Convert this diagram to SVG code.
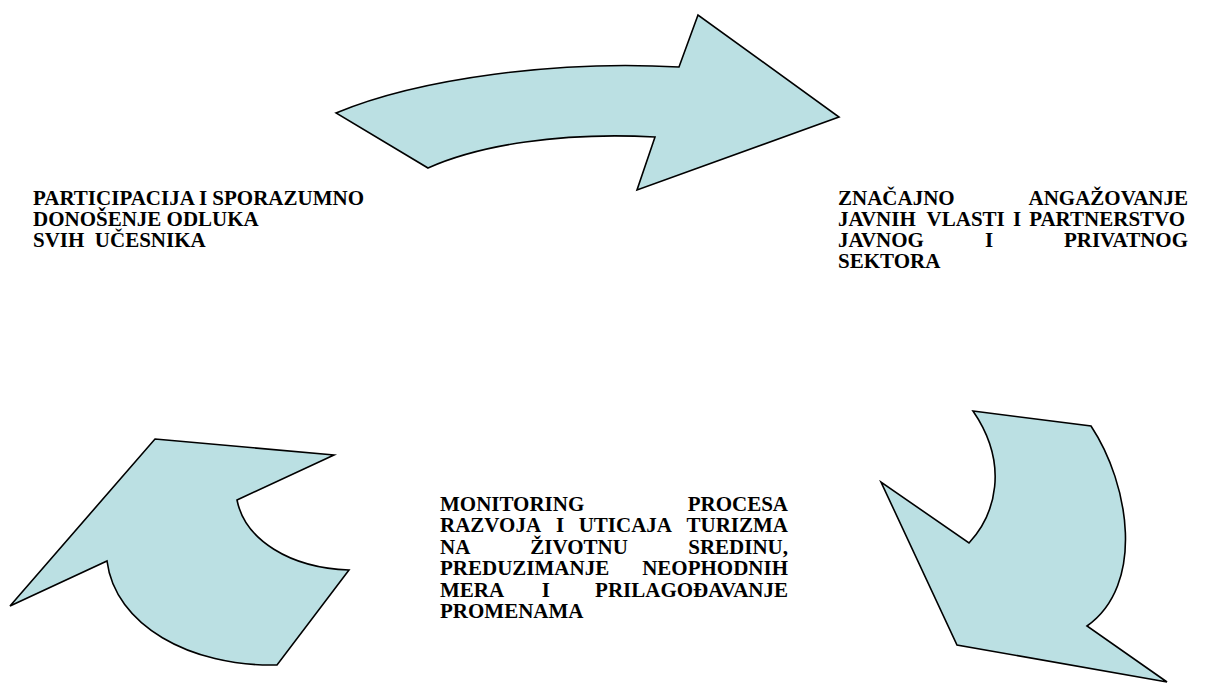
<svg xmlns="http://www.w3.org/2000/svg" width="1206" height="683" viewBox="0 0 1206 683">
<style>
.arrow{fill:#BBE0E3;stroke:#000;stroke-width:1.6;stroke-linejoin:miter}
.t{font-family:'Liberation Serif','Times New Roman','DejaVu Serif',serif;font-weight:700;font-size:21px;fill:#000}
.e{text-anchor:end}
</style>
<rect width="1206" height="683" fill="#fff"/>
<g id="connectors">
<path id="arrow-top" class="arrow" d="M336,113 C420,78 560,60 679,67 L698,15 L839,117 L637,190 L655,137 C560,132 480,145 428,168 Z"/>
<path id="arrow-right" class="arrow" d="M973,411 L1091,426 C1130,485 1145,585 1087,626 L1167,682 L957,645 L881,482 L969,543 C995,515 1010,465 973,411 Z"/>
<path id="arrow-left" class="arrow" d="M155,439 L334,455 L237,500 C245,540 290,568 349,570 L277,665 C190,667 115,625 107,561 L10,606 Z"/>
</g>
<g id="node-left" font-family="Liberation Serif, serif" font-weight="bold">
<text class="t" x="33" y="205">PARTICIPACIJA I SPORAZUMNO</text>
<text class="t" x="33" y="226">DONOŠENJE ODLUKA</text>
<text class="t" x="33" y="247" xml:space="preserve">SVIH  UČESNIKA</text>
</g>
<g id="node-right" font-family="Liberation Serif, serif" font-weight="bold">
<text class="t" x="838" y="205">ZNAČAJNO</text>
<text class="t e" x="1188" y="205">ANGAŽOVANJE</text>
<text class="t" y="226"><tspan x="838">JAVNIH</tspan><tspan x="926.6">VLASTI</tspan><tspan x="1012.9">I</tspan><tspan x="1029.2">PARTNERSTVO</tspan></text>
<text class="t" y="247"><tspan x="838">JAVNOG</tspan><tspan x="985">I</tspan></text>
<text class="t e" x="1188" y="247">PRIVATNOG</text>
<text class="t" x="838" y="268">SEKTORA</text>
</g>
<g id="node-bottom" font-family="Liberation Serif, serif" font-weight="bold">
<text class="t" x="440" y="511">MONITORING</text>
<text class="t e" x="788" y="511">PROCESA</text>
<text class="t" y="532"><tspan x="440">RAZVOJA</tspan><tspan x="556">I</tspan><tspan x="578.7">UTICAJA</tspan></text>
<text class="t e" x="788" y="532">TURIZMA</text>
<text class="t" y="554"><tspan x="440">NA</tspan><tspan x="530.3">ŽIVOTNU</tspan></text>
<text class="t e" x="788" y="554">SREDINU,</text>
<text class="t" x="440" y="575">PREDUZIMANJE</text>
<text class="t e" x="788" y="575">NEOPHODNIH</text>
<text class="t" y="597"><tspan x="440">MERA</tspan><tspan x="541.8">I</tspan></text>
<text class="t e" x="788" y="597">PRILAGOĐAVANJE</text>
<text class="t" x="440" y="618">PROMENAMA</text>
</g>
</svg>
